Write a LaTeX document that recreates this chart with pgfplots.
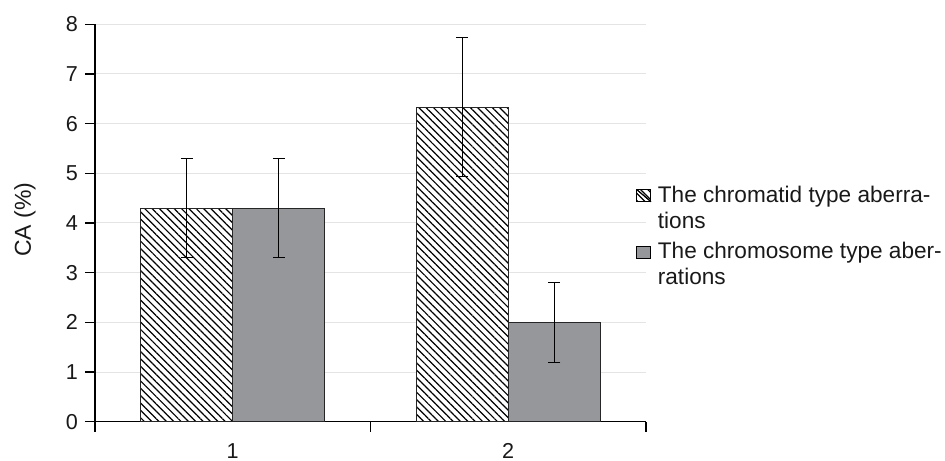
\documentclass[border=0pt]{standalone}
\usepackage{fontspec}
\setmainfont{Liberation Sans}
\usepackage{pgfplots}
\pgfplotsset{compat=1.18}
\usetikzlibrary{patterns.meta}
\definecolor{barGray}{RGB}{150,151,155}
\definecolor{gridGray}{RGB}{228,228,228}
\begin{document}
\begin{tikzpicture}
\begin{axis}[
  scale only axis,
  width=275.5pt, height=198.7pt,
  xmin=-0.5, xmax=1.5, ymin=0, ymax=8,
  ybar=0pt, bar width=46pt,
  axis lines*=left,
  axis line style={line width=0.6pt, black},
  tick align=outside,
  major tick length=5pt,
  tick style={line width=0.6pt, black},
  xtick={-0.5,0.5,1.5}, xticklabels={},
  extra x ticks={0,1}, extra x tick labels={1,2},
  extra x tick style={major tick length=0pt, tick label style={yshift=-7.2pt}},
  ytick={0,1,...,8},
  ymajorgrids, grid style={gridGray, line width=0.5pt},
  /pgf/number format/assume math mode=true,
  tick label style={font=\fontsize{10.8pt}{12pt}\selectfont, black!90},
  ylabel={CA (\%)},
  every axis y label/.style={at={(axis description cs:-0.127,0.508)}, rotate=90, anchor=center, font=\fontsize{11.5pt}{13pt}\selectfont, black!90},
  legend style={at={(axis description cs:0.982,0.605)}, anchor=north west, draw=none, fill=none, inner sep=0pt, column sep=1.2pt, row sep=1.5pt, font=\fontsize{11.3pt}{13pt}\selectfont, text=black!90, cells={anchor=west, align=left}},
  legend cell align=left,
]
\addplot[fill=white, draw=black!85, line width=0.5pt,
  postaction={pattern={Lines[angle=-45,distance=2.6pt,line width=0.6pt]}},
  legend image code/.code={\draw[black, line width=0.5pt, fill=white] (0pt,3.3pt) rectangle (7pt,9.3pt); \draw[black, line width=0.5pt] (0pt,9.3pt) -- (7pt,3.3pt);},
  error bars/.cd, y dir=both, y explicit,
  error bar style={line width=0.55pt, black},
  error mark options={rotate=90, mark size=3pt, line width=0.55pt, black}]
  coordinates {(0,4.3) +- (0,1.0) (1,6.33) +- (0,1.4)};
\addlegendentry{The chromatid type aberra-\\tions}
\addplot[fill=barGray, draw=black!85, line width=0.5pt,
  legend image code/.code={\draw[black, line width=0.5pt, fill=barGray] (0pt,3.3pt) rectangle (7pt,9.3pt);},
  error bars/.cd, y dir=both, y explicit,
  error bar style={line width=0.55pt, black},
  error mark options={rotate=90, mark size=3pt, line width=0.55pt, black}]
  coordinates {(0,4.3) +- (0,1.0) (1,2.0) +- (0,0.8)};
\addlegendentry{The chromosome type aber-\\rations}
\coordinate (o) at (rel axis cs:0,0);
\coordinate (t) at (rel axis cs:1,1);
\end{axis}
\pgfresetboundingbox
\path[use as bounding box] ([shift={(-47.5pt,-19.65pt)}]o) rectangle ([shift={(149.5pt,12.15pt)}]t);
\end{tikzpicture}
\end{document}
